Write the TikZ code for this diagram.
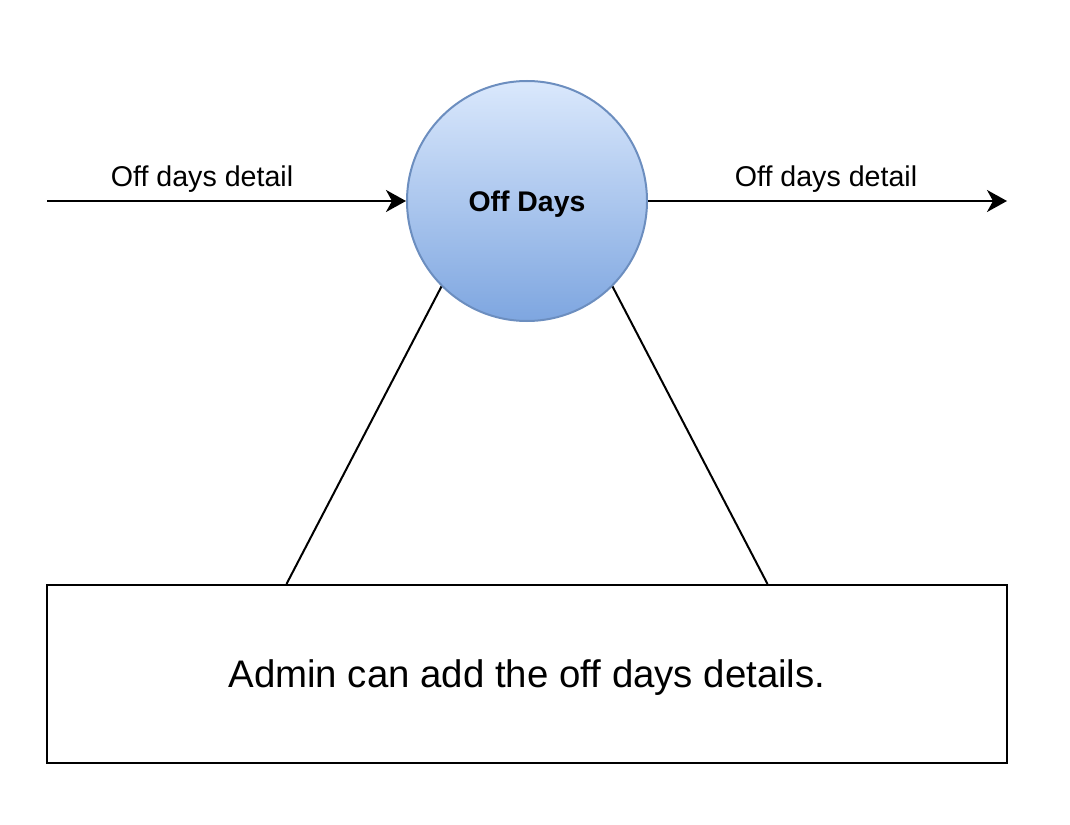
\documentclass[tikz,border=0pt]{standalone}
\usepackage{fontspec}
\setmainfont{Liberation Sans}
\usetikzlibrary{arrows.meta, calc, positioning}

\definecolor{procfill}{HTML}{DAE8FC}
\definecolor{procfilldark}{HTML}{7EA6E0}
\definecolor{procline}{HTML}{6C8EBF}

\tikzset{
  process/.style={circle, draw=procline, line width=1pt, top color=procfill,
    bottom color=procfilldark, minimum size=120pt, inner sep=0pt, text depth=0pt,
    font=\fontsize{14.2}{16}\selectfont\bfseries},
  flowlabel/.style={font=\fontsize{14.3}{16}\selectfont, inner sep=0pt, text depth=0pt},
  notebox/.style={rectangle, draw, line width=1pt, minimum width=480pt,
    minimum height=89pt, inner sep=0pt, text depth=0pt, font=\fontsize{19.2}{22}\selectfont},
  flow/.style={line width=1pt, -{Stealth[length=10pt, width=11pt, inset=3pt]}}
}

\begin{document}
\begin{tikzpicture}[x=0.5pt, y=-0.5pt]
  \useasboundingbox (0,0) rectangle (1070,824);
  \node [process] (offdays) at (527,201) {Off Days};
  \coordinate (src) at (47,201);
  \coordinate (dst) at (1007,201);
  \draw [flow] (src) -- (offdays.west);
  \draw [flow] (offdays.east) -- (dst);
  \node [flowlabel] (inlabel) at (202,176) {Off days detail};
  \node [flowlabel] (outlabel) at (826,176) {Off days detail};
  \node [notebox] (note) at (527,674) {Admin can add the off days details.};
  \draw [line width=1pt] (offdays.225) -- ($(note.north west)!0.25!(note.north east)$);
  \draw [line width=1pt] (offdays.-45) -- ($(note.north west)!0.75!(note.north east)$);
\end{tikzpicture}
\end{document}
